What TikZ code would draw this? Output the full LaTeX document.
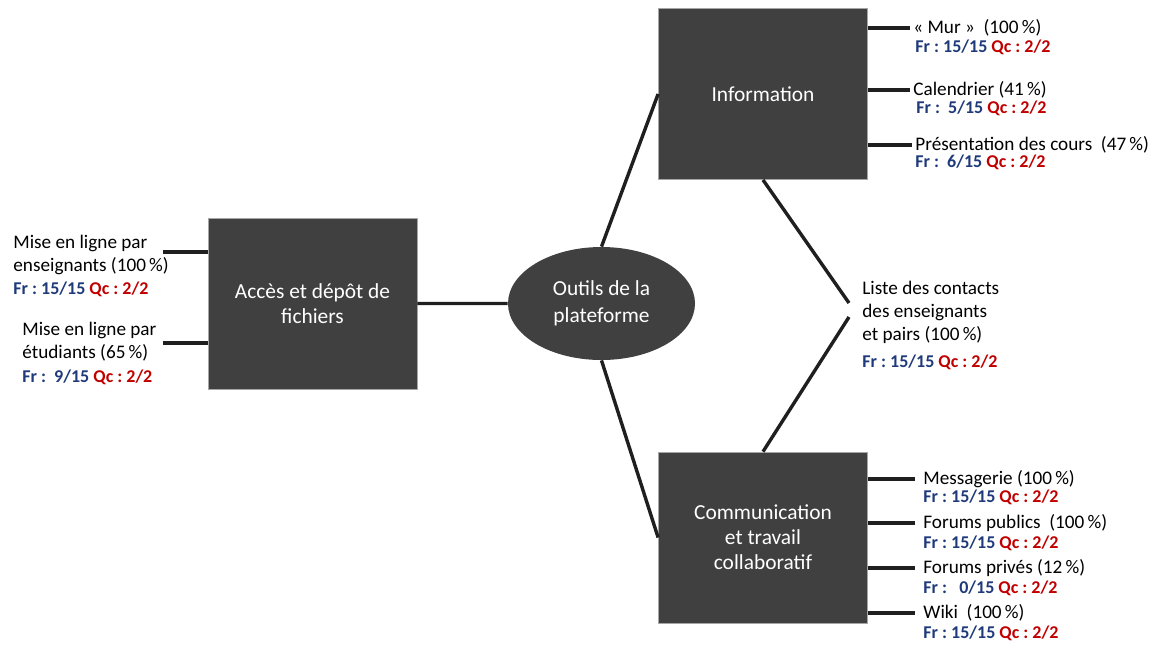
\documentclass[tikz,border=0pt]{standalone}
\usepackage{fontspec}
\setmainfont{Carlito}
\usetikzlibrary{shapes.geometric}
\definecolor{boxgray}{HTML}{404040}
\definecolor{frblue}{HTML}{1F3A7A}
\definecolor{qcred}{HTML}{C00000}
\newcommand{\frqc}[2]{{\color{frblue}Fr :~#1} {\color{qcred}Qc :~#2}}

\begin{document}
\begin{tikzpicture}[x=0.5pt,y=-0.5pt]
      \tikzset{
        every node/.style={inner sep=0pt,font=\fontsize{9.6}{11.5}\selectfont},
        box/.style={rectangle,fill=boxgray,draw=gray!70,text=white,align=center,
          minimum width=104.5pt,minimum height=85.5pt,font=\fontsize{10.7}{12.5}\selectfont},
        hub/.style={ellipse,fill=boxgray,text=white,align=center,
          minimum width=93.5pt,minimum height=56.5pt,font=\fontsize{10.7}{13.5}\selectfont},
        item/.style={anchor=west,align=left},
        frline/.style={anchor=west,font=\fontsize{9}{11}\bfseries\selectfont},
        link/.style={line width=1.7pt,draw=black!88}
      }
      \useasboundingbox (0,0) rectangle (1156,644);

      % main boxes
      \node[box] (acces) at (312.5,303.5) {Accès et dépôt de\\fichiers};
      \node[hub] (outils) at (601.5,303.5) {Outils de la\\plateforme};
      \node[box] (info) at (763,94) {Information};
      \node[box] (comm) at (763,537.5) {Communication\\et travail\\collaboratif};

      \draw[link] (acces.east) -- (outils.west)
                  (outils.north) -- (info.west)
                  (outils.south) -- (comm.west);

      % left side
      \node[item] (ens) at (13,255) {Mise en ligne par\\enseignants (100\,\%)};
      \node[frline] (ensfr) at (13,289) {\frqc{15/15}{2/2}};
      \node[item] (etu) at (22,341.5) {Mise en ligne par\\étudiants (65\,\%)};
      \node[frline] (etufr) at (22,377) {\frqc{\ 9/15}{2/2}};
      \coordinate (ensend) at (163,252);
      \coordinate (etuend) at (163,343);
      \draw[link] (ensend) -- (acces.west |- ensend)
                  (etuend) -- (acces.west |- etuend);

      % information
      \node[item] (mur) at (913,28) {«~Mur~»~ (100\,\%)};
      \node[frline] (murfr) at (915,47) {\frqc{15/15}{2/2}};
      \node[item] (cal) at (913,90) {Calendrier (41\,\%)};
      \node[frline] (calfr) at (916,108) {\frqc{\ 5/15}{2/2}};
      \node[item] (pres) at (915,145) {Présentation des cours~ (47\,\%)};
      \node[frline] (presfr) at (915,162) {\frqc{\ 6/15}{2/2}};
      \foreach \n in {mur,cal,pres}
        \draw[link] (info.east |- \n.west) -- ([xshift=-1.5pt]\n.west);

      % contacts
      \node[item] (liste) at (862,312) {Liste des contacts\\des enseignants\\et pairs (100\,\%)};
      \node[frline] (listefr) at (862,362) {\frqc{15/15}{2/2}};
      \coordinate (lhaut) at (849,303);
      \coordinate (lbas) at (849,317);
      \draw[link] (info.south) -- (lhaut)
                  (lbas) -- (comm.north);

      % communication
      \node[item] (mess) at (923,479) {Messagerie (100\,\%)};
      \node[frline] (messfr) at (923,497) {\frqc{15/15}{2/2}};
      \node[item] (fpub) at (923,523) {Forums publics~ (100\,\%)};
      \node[frline] (fpubfr) at (923,543) {\frqc{15/15}{2/2}};
      \node[item] (fpriv) at (923,568) {Forums privés (12\,\%)};
      \node[frline] (fprivfr) at (923,588) {\frqc{\ \ 0/15}{2/2}};
      \node[item] (wiki) at (923,613) {Wiki~ (100\,\%)};
      \node[frline] (wikifr) at (923,633) {\frqc{15/15}{2/2}};
      \foreach \n in {mess,fpub,fpriv,wiki}
        \draw[link] (comm.east |- \n.west) -- ([xshift=-4pt]\n.west);
    \end{tikzpicture}
\end{document}
